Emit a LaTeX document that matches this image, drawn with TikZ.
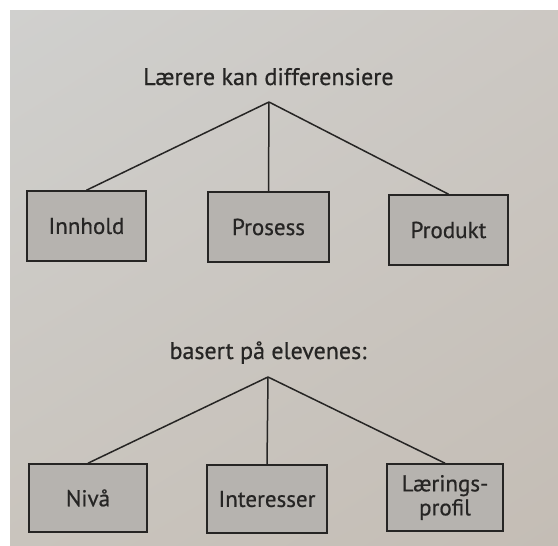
\documentclass[tikz,border=0pt]{standalone}
\usepackage{fontspec}
\setmainfont[FakeBold=0.6]{PT Sans}
\usetikzlibrary{shadings}
\definecolor{paperA}{HTML}{D0D0CE}
\definecolor{paperB}{HTML}{CCC8C3}
\definecolor{paperC}{HTML}{C9C4BD}
\definecolor{paperD}{HTML}{C4BDB5}
\definecolor{boxfill}{HTML}{B6B3AF}
\definecolor{ink}{HTML}{262524}
\begin{document}
\begin{tikzpicture}[x=1pt,y=-1pt,
  lbl/.style={font=\fontsize{24}{26}\selectfont, text=ink, inner sep=0pt},
  cat/.style={draw=ink, line width=1.6pt, fill=boxfill, font=\fontsize{23}{24}\selectfont,
     text=ink, align=center, inner sep=0pt},
  link/.style={draw=ink, line width=1.5pt}]
\useasboundingbox (0,0) rectangle (558,546);
\fill[white] (0,0) rectangle (558,546);
\shade[upper left=paperA, upper right=paperB, lower left=paperC, lower right=paperD] (10,10) rectangle (558,546);
% top tree
\node[lbl, anchor=base] (t1) at (268.5,85) {Lærere kan differensiere};
\coordinate (a1) at (269,102);
\node[cat, minimum width=119pt, minimum height=70pt] (b1) at (86.5,226) {Innhold};
\node[cat, minimum width=121pt, minimum height=70pt] (b2) at (268.5,227) {Prosess};
\node[cat, minimum width=119pt, minimum height=70pt] (b3) at (448.5,230) {Produkt};
\draw[link] (a1) -- (b1.north);
\draw[link] (a1) -- (b2.north);
\draw[link] (a1) -- (b3.north);
% bottom tree
\node[lbl, anchor=base] (t2) at (268,359) {basert på elevenes:};
\coordinate (a2) at (268,377);
\node[cat, minimum width=118pt, minimum height=68pt] (c1) at (88,498) {Nivå};
\node[cat, minimum width=120pt, minimum height=68pt] (c2) at (267,499) {Interesser};
\node[cat, minimum width=116pt, minimum height=67pt] (c3) at (445,497.5) {Lærings-\\profil};
\draw[link] (a2) -- (c1.north);
\draw[link] (a2) -- (c2.north);
\draw[link] (a2) -- (c3.north);
\end{tikzpicture}
\end{document}
